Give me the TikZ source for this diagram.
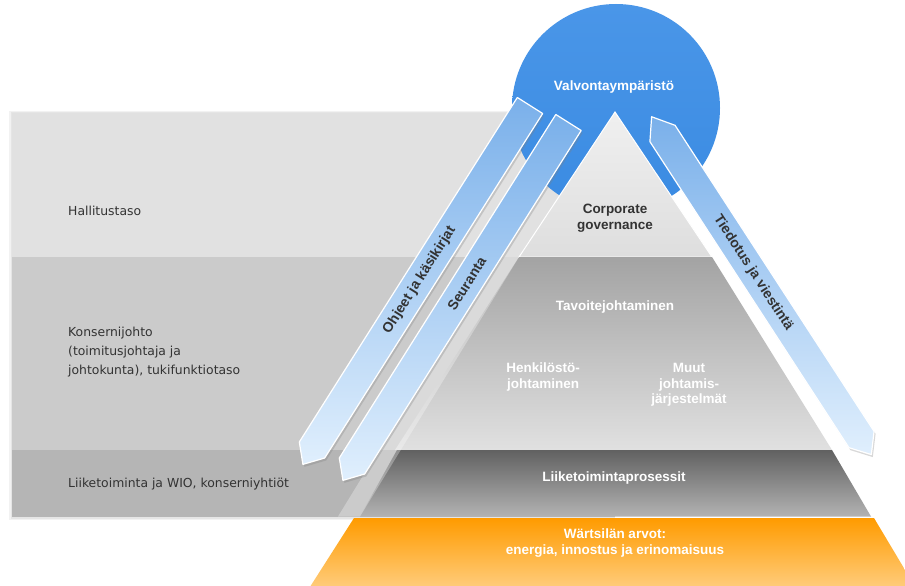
\documentclass[tikz,border=0pt]{standalone}
\usepackage{fontspec}
\setmainfont{Liberation Sans}
\newfontfamily\bandfont{DejaVu Sans}
\usepackage{tikz}
\usetikzlibrary{calc,positioning,shadows}

\definecolor{bandtop}{RGB}{225,225,225}
\definecolor{bandmid}{RGB}{203,203,203}
\definecolor{bandlow}{RGB}{181,181,181}
\definecolor{valvblue}{RGB}{58,139,226}
\definecolor{valvlight}{RGB}{74,150,232}
\definecolor{arrowdark}{RGB}{122,176,234}
\definecolor{arrowlight}{RGB}{224,239,253}
\definecolor{textgray}{RGB}{51,51,51}
\definecolor{wartsila}{RGB}{255,155,0}
\definecolor{wartsilalight}{RGB}{255,206,128}

\tikzset{
  bandlabel/.style={anchor=west, align=left, inner sep=0pt, text=textgray,
    font=\bandfont\fontsize{12.4}{18.7}\selectfont},
  pyrlabel/.style={align=center, inner sep=0pt, text=white,
    font=\bfseries\fontsize{13.5}{15.5}\selectfont},
  arrowlabel/.style={inner sep=0pt, text=textgray,
    font=\bfseries\fontsize{14}{16}\selectfont},
  blockarrow/.style={top color=arrowdark, bottom color=arrowlight, draw=white,
    line width=1.2pt, line join=round,
    drop shadow={opacity=0.3, shadow xshift=1.5pt, shadow yshift=-2.5pt}},
}

% strip with pointed ends: #1 top centre, #2 bottom centre, #3 top tip, #4 bottom tip
\newcommand{\arrowpath}[4]{($(#1)!15pt!90:(#2)$) -- ($(#1)!-#3!(#2)$) -- ($(#1)!15pt!-90:(#2)$)
  -- ($(#2)!15pt!90:(#1)$) -- ($(#2)!-#4!(#1)$) -- ($(#2)!15pt!-90:(#1)$) -- cycle}

\begin{document}
\begin{tikzpicture}[x=1pt,y=-1pt]
	\clip (0,0) rectangle (905,586);
	\fill[white] (0,0) rectangle (905,586);

	% organisation levels
	\fill[black,opacity=.05] (9,111) rectangle (615,520);
	\fill[black,opacity=.05] (10.5,112) rectangle (615,518.5);
	\fill[bandtop] (12,113) rectangle (615,257);
	\fill[bandmid] (12,257) rectangle (615,450);
	\fill[bandlow] (12,450) rectangle (615,516.5);

	% control environment
	\node[circle, top color=valvlight, bottom color=valvblue, minimum size=208pt, inner sep=0pt] (valvCircle) at (616,108) {};
	\node[pyrlabel] (valvLabel) at (614,87) {Valvontaympäristö};

	% pyramid
	\shade[top color=black!6, bottom color=black!13, draw=white, line width=1pt]
		(615,112) -- (712,257) -- (519,257) -- cycle;
	\shade[top color=black!36, bottom color=black!12]
		(519,257) -- (712,257) -- (832,450) -- (395,450) -- cycle;
	\shade[top color=black!62, bottom color=black!30]
		(397,450) -- (832,450) -- (871,516.5) -- (360,516.5) -- cycle;
	\shade[top color=wartsila, bottom color=wartsilalight]
		(354,518) -- (874,518) -- (917,590) -- (308,590) -- cycle;
	\fill[white,opacity=.3] (519,257) -- (360,516.5) -- (338,516.5) -- (497,257) -- cycle;

	% arrows
	\coordinate (ohjeTop) at (530,105.5);
	\coordinate (ohjeEnd) at (312,450);
	\coordinate (seurTop) at (568.5,122.5);
	\coordinate (seurEnd) at (352,466);
	\coordinate (tiedTop) at (662.5,133.5);
	\coordinate (tiedEnd) at (861.5,439.5);
	\shade[blockarrow] \arrowpath{ohjeTop}{ohjeEnd}{0pt}{17pt};
	\shade[blockarrow] \arrowpath{seurTop}{seurEnd}{0pt}{17pt};
	\shade[blockarrow] \arrowpath{tiedTop}{tiedEnd}{20pt}{18pt};
	\node[arrowlabel, rotate=57.7] (ohjeLabel) at ($(ohjeTop)!0.507!(ohjeEnd)$) {Ohjeet ja käsikirjat};
	\node[arrowlabel, rotate=57.7] (seurLabel) at ($(seurTop)!0.47!(seurEnd)$) {Seuranta};
	\node[arrowlabel, rotate=-57.0] (tiedLabel) at ($(tiedTop)!0.456!(tiedEnd)$) {Tiedotus ja viestintä};

	% level texts
	\node[bandlabel] (hallLabel) at (68,210.5) {Hallitustaso};
	\node[bandlabel] (konsLabel) at (68,352) {Konsernijohto\\(toimitusjohtaja ja\\johtokunta), tukifunktiotaso};
	\node[bandlabel] (liikLabel) at (68,484) {Liiketoiminta ja WIO, konserniyhtiöt};

	% pyramid texts
	\node[pyrlabel, text=textgray] (corpLabel) at (615,218) {Corporate\\governance};
	\node[pyrlabel] (tavoLabel) at (615,307) {Tavoitejohtaminen};
	\node[pyrlabel] (henkLabel) at (543,377) {Henkilöstö-\\johtaminen};
	\node[pyrlabel] (muutLabel) at (689,385) {Muut\\johtamis-\\järjestelmät};
	\node[pyrlabel] (prosLabel) at (614,478) {Liiketoimintaprosessit};
	\node[pyrlabel] (arvoLabel) at (615,543) {Wärtsilän arvot:\\energia, innostus ja erinomaisuus};
\end{tikzpicture}
\end{document}
